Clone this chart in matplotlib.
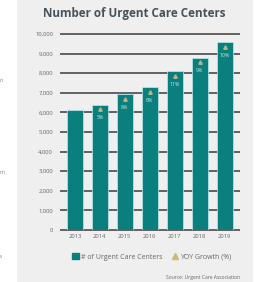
import matplotlib
matplotlib.use('Agg')
import matplotlib.pyplot as plt
from matplotlib.patches import Rectangle, Patch
from matplotlib.lines import Line2D

years = ["2013", "2014", "2015", "2016", "2017", "2018", "2019"]
centers = [6100, 6400, 6950, 7300, 8100, 8800, 9600]
growth = ["", "5%", "8%", "6%", "11%", "9%", "10%"]
y_ticks = [0, 1000, 2000, 3000, 4000, 5000, 6000, 7000, 8000, 9000, 10000]

TEAL = "#0a7f7e"
KHAKI = "#cdbb6a"
GRID = "#4a4a4a"
TEXT = "#666666"

W, H = 264, 282
fig = plt.figure(figsize=(W / 100, H / 100), dpi=100)
fig.patch.set_facecolor("white")
plt.rcParams['font.family'] = ['Open Sans', 'DejaVu Sans']

# gray panel, behind everything
fig.patches.append(Rectangle((17 / W, 0), (253 - 17) / W, 1, transform=fig.transFigure,
                             facecolor="#efeff0", edgecolor="none", zorder=-5))

# cut-off text from neighbouring column
for ch, yy in [("n", 81), ("m", 172), ("a", 257)]:
    fig.text(-1 / W, 1 - yy / H, ch, fontsize=4, color="#888888", va="center", ha="left")

fig.text(134 / W, 1 - 14 / H, "Number of Urgent Care Centers", fontsize=8.4,
         fontweight="bold", color="#45525c", ha="center", va="center")

ax = fig.add_axes([60 / W, (H - 230) / H, 180 / W, (230 - 34) / H])
ax.set_facecolor("none")
ax.set_zorder(1)
x = list(range(len(years)))
ax.set_xlim(-0.602, 6.62)
ax.set_ylim(0, 10000)

ax.hlines(y_ticks, -0.602, 6.62, colors=GRID, linewidth=1.2, zorder=1, clip_on=False)
ax.bar(x, centers, width=0.64, color=TEAL, edgecolor="#bfe9ea", linewidth=0.5, zorder=2)

for xi, v, g in zip(x, centers, growth):
    if not g:
        continue
    ax.plot(xi, v - 250, marker="^", markersize=2.5, color="#b9b487", zorder=3)
    ax.text(xi, v - 680, g, fontsize=3.8, color="#cfe8e2", ha="center", va="center", zorder=3)

for s in ax.spines.values():
    s.set_visible(False)
ax.set_yticks(y_ticks)
ax.set_yticklabels([f"{t:,}" for t in y_ticks], fontsize=4.2, color=TEXT)
ax.set_xticks(x)
ax.set_xticklabels(years, fontsize=4.2, color=TEXT)
ax.tick_params(length=0, pad=5)
ax.tick_params(axis="x", pad=3)

handles = [Patch(facecolor=TEAL, edgecolor=TEAL),
           Line2D([], [], marker="^", color=KHAKI, linestyle="none", markersize=4)]
fig.legend(handles, ["# of Urgent Care Centers", "YOY Growth (%)"], loc="center",
           bbox_to_anchor=(152 / W, 1 - 257 / H), ncol=2, frameon=False, fontsize=5.0,
           handlelength=1.0, handleheight=1.0, handletextpad=0.3, columnspacing=1.2,
           labelcolor=TEXT)

fig.text(240 / W, 1 - 278 / H, "Source: Urgent Care Association", fontsize=3.6,
         color=TEXT, ha="right", va="center")

fig.savefig("out.png", dpi=100)
